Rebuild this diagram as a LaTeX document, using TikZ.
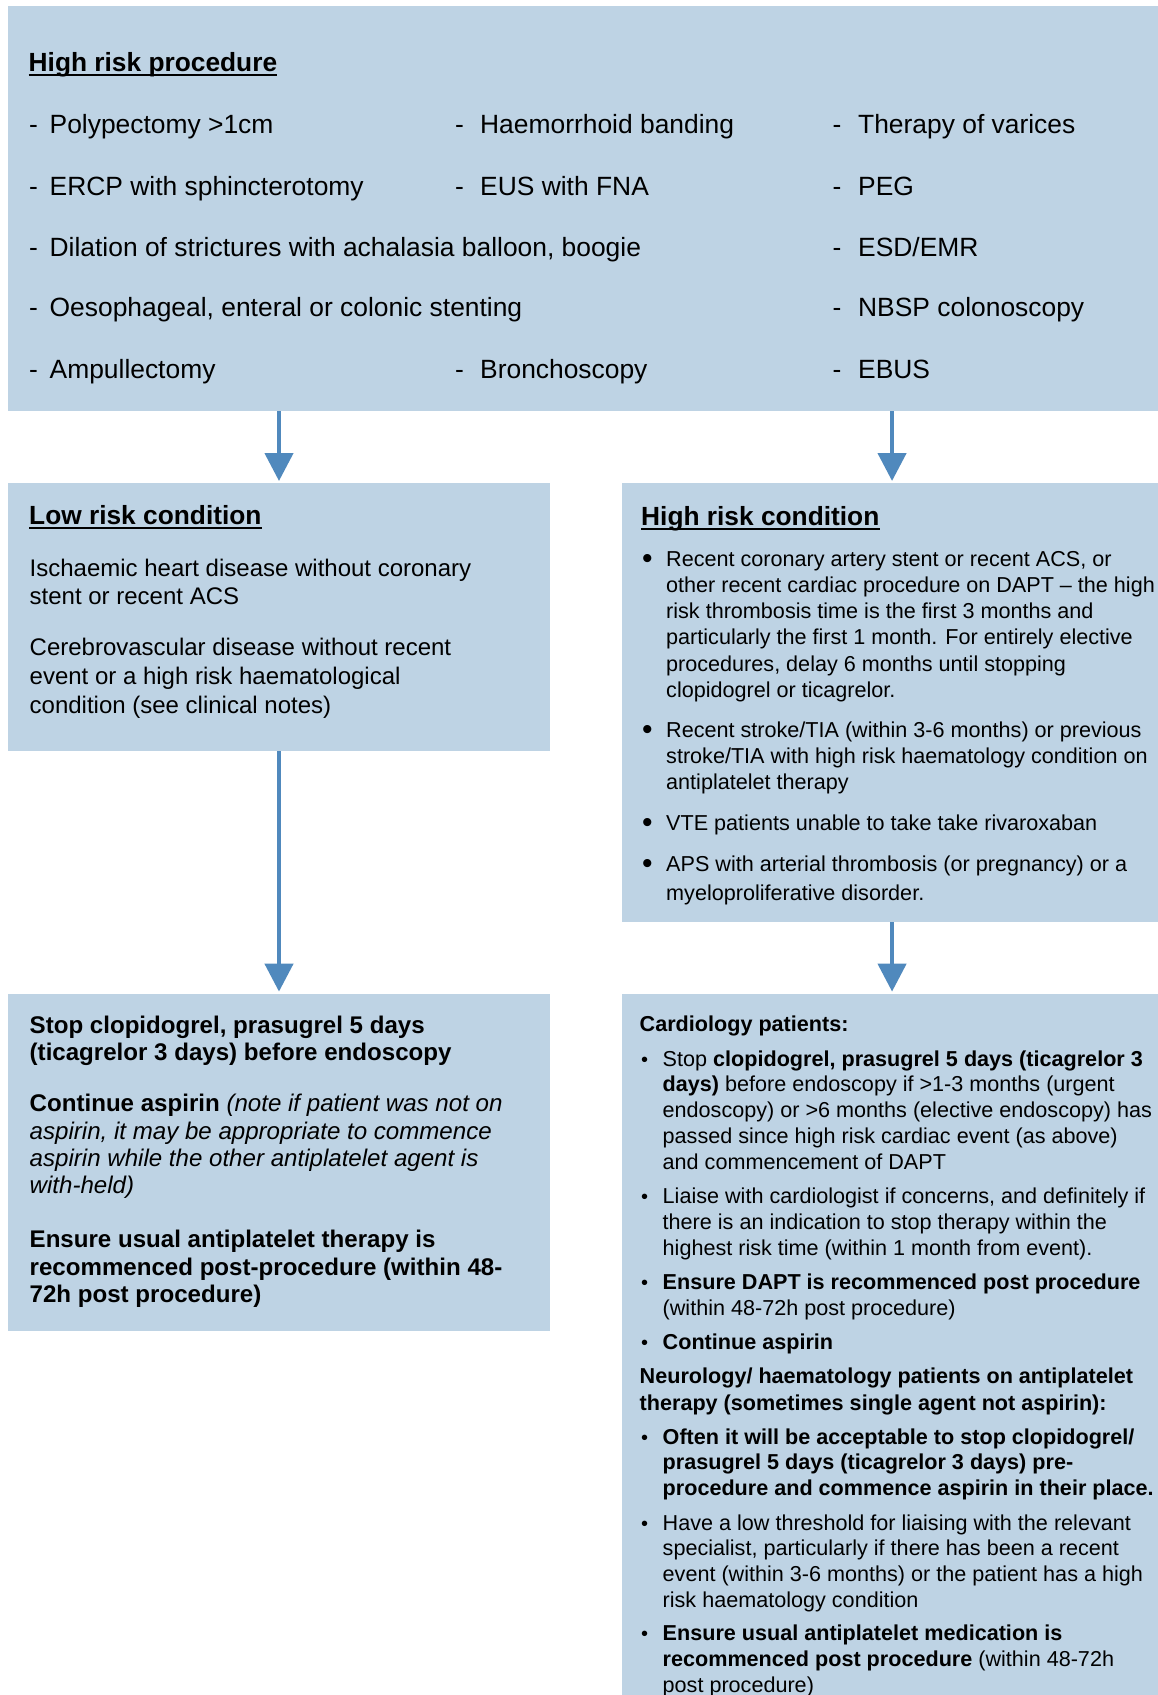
\documentclass[tikz,border=0pt]{standalone}
\usepackage{fontspec}
\setmainfont{Liberation Sans}
\usetikzlibrary{arrows.meta}
\definecolor{boxfill}{RGB}{190,211,228}
\definecolor{flowblue}{RGB}{80,137,189}
\newcommand\fsz[2]{\fontsize{#1}{#2}\selectfont}
% left-aligned lines whose baseline is the first line's baseline
\newcommand\stack[1]{\vtop{\let\\\cr\halign{##\hfil\cr#1\crcr}}}
\newcommand\gap[1]{\noalign{\vskip#1}}
\begin{document}
\begin{tikzpicture}[x=1pt,y=-1pt,
  panel/.style={fill=boxfill,draw=none,inner sep=0pt,anchor=north west},
  txt/.style={anchor=base west,inner sep=0pt},
  item/.style={txt,font=\fsz{26.4}{30}},
  head/.style={txt,font=\bfseries\fsz{26.3}{30}},
  body/.style={txt,font=\fsz{24}{28.7}},
  note/.style={txt,font=\fsz{21.6}{26.3}},
  act/.style={txt,font=\bfseries\fsz{24.1}{27.4}},
  fine/.style={txt,font=\fsz{21.6}{25.9}},
  bigdot/.style={anchor=base,inner sep=0pt,font=\fsz{30}{30}},
  smalldot/.style={anchor=base,inner sep=0pt,font=\fsz{20}{20}},
  flow/.style={draw=flowblue,line width=4.5pt,-{Triangle[width=28pt,length=28pt]},shorten >=2pt},
  rule/.style={line width=1.9pt}
]
\useasboundingbox (0,0) rectangle (1158,1695);
\fill[white] (0,0) rectangle (1158,1695);

% panels
\node[panel,minimum width=1150.4pt,minimum height=405.6pt] (proc) at (7.6,5.4) {};
\node[panel,minimum width=542.4pt,minimum height=268pt] (low) at (7.6,483) {};
\node[panel,minimum width=536.3pt,minimum height=439pt] (high) at (621.7,483) {};
\node[panel,minimum width=542.4pt,minimum height=337.4pt] (lowact) at (7.6,993.6) {};
\node[panel,minimum width=536.3pt,minimum height=701.4pt] (highact) at (621.7,993.6) {};

% connectors
\coordinate (highin) at ([xshift=2pt]high.north);
\coordinate (highout) at ([xshift=2pt]high.south);
\coordinate (highactin) at ([xshift=2pt]highact.north);
\draw[flow] (proc.south -| low.north) -- (low.north);
\draw[flow] (proc.south -| highin) -- (highin);
\draw[flow] (low.south) -- (lowact.north);
\draw[flow] (highout) -- (highactin);

% high risk procedures
\node[head] (proctitle) at (28.5,71.7) {High risk procedure};
\draw[rule] ([yshift=-3.6pt]proctitle.base west) -- ([yshift=-3.6pt]proctitle.base east);

\node[item] (pa1) at (29,133.3) {\makebox[20.5pt][l]{-}Polypectomy >1cm};
\node[item] (pb1) at (455,133.3) {\makebox[25pt][l]{-}Haemorrhoid banding};
\node[item] (pc1) at (832.5,133.3) {\makebox[25.5pt][l]{-}Therapy of varices};
\node[item] (pa2) at (29,195) {\makebox[20.5pt][l]{-}ERCP with sphincterotomy};
\node[item] (pb2) at (455,195) {\makebox[25pt][l]{-}EUS with FNA};
\node[item] (pc2) at (832.5,195) {\makebox[25.5pt][l]{-}PEG};
\node[item] (pa3) at (29,256.7) {\makebox[20.5pt][l]{-}Dilation of strictures with achalasia balloon, boogie};
\node[item] (pc3) at (832.5,256.7) {\makebox[25.5pt][l]{-}ESD/EMR};
\node[item] (pa4) at (29,316.9) {\makebox[20.5pt][l]{-}Oesophageal, enteral or colonic stenting};
\node[item] (pc4) at (832.5,316.9) {\makebox[25.5pt][l]{-}NBSP colonoscopy};
\node[item] (pa5) at (29,378) {\makebox[20.5pt][l]{-}Ampullectomy};
\node[item] (pb5) at (455,378) {\makebox[25pt][l]{-}Bronchoscopy};
\node[item] (pc5) at (832.5,378) {\makebox[25.5pt][l]{-}EBUS};

% low risk condition
\node[head] (lowtitle) at (29,524.4) {Low risk condition};
\draw[rule] ([yshift=-3.6pt]lowtitle.base west) -- ([yshift=-3.6pt]lowtitle.base east);
\node[body] (low1) at (29.5,576) {\stack{Ischaemic heart disease without coronary\\stent or recent ACS}};
\node[body] (low2) at (29.5,655.6) {\stack{Cerebrovascular disease without recent\\event or a high risk haematological\\condition (see clinical notes)}};

% high risk condition
\node[head] (hightitle) at (641,525) {High risk condition};
\draw[rule] ([yshift=-3.6pt]hightitle.base west) -- ([yshift=-3.6pt]hightitle.base east);
\node[bigdot] (hd1) at (647.3,568) {•};
\node[note] (h1) at (666,566) {\stack{Recent coronary artery stent or recent ACS, or\\other recent cardiac procedure on DAPT – the high\\risk thrombosis time is the first 3 months and\\particularly the first 1 month. For entirely elective\\procedures, delay 6 months until stopping\\clopidogrel or ticagrelor.}};
\node[bigdot] (hd2) at (647.3,739.3) {•};
\node[note] (h2) at (666,737.3) {\stack{Recent stroke/TIA (within 3-6 months) or previous\\stroke/TIA with high risk haematology condition on\\antiplatelet therapy}};
\node[bigdot] (hd3) at (647.3,832) {•};
\node[note] (h3) at (666,830) {VTE patients unable to take take rivaroxaban};
\node[bigdot] (hd4) at (647.3,873.7) {•};
\node[note] (h4) at (666,871.7) {\stack{APS with arterial thrombosis (or pregnancy) or a\\\gap{2.7pt}myeloproliferative disorder.}};

% low risk management
\node[act] (la1) at (29.5,1033.3) {\stack{Stop clopidogrel, prasugrel 5 days\\(ticagrelor 3 days) before endoscopy}};
\node[act] (la2) at (29.5,1111.7) {\stack{Continue aspirin \mdseries\itshape(note if patient was not on\\\mdseries\itshape aspirin, it may be appropriate to commence\\\mdseries\itshape aspirin while the other antiplatelet agent is\\\mdseries\itshape with-held)}};
\node[act] (la3) at (29.5,1247.7) {\stack{Ensure usual antiplatelet therapy is\\recommenced post-procedure (within 48-\\72h post procedure)}};

% high risk management
\node[fine,font=\bfseries\fsz{21.6}{25.9}] (card) at (639.5,1031.7) {Cardiology patients:};
\node[smalldot] (cd1) at (644.5,1066) {•};
\node[fine] (c1) at (662.5,1066) {\stack{Stop \textbf{clopidogrel, prasugrel 5 days (ticagrelor 3}\\\textbf{days)} before endoscopy if >1-3 months (urgent\\endoscopy) or >6 months (elective endoscopy) has\\passed since high risk cardiac event (as above)\\and commencement of DAPT}};
\node[smalldot] (cd2) at (644.5,1203.3) {•};
\node[fine] (c2) at (662.5,1203.3) {\stack{Liaise with cardiologist if concerns, and definitely if\\there is an indication to stop therapy within the\\highest risk time (within 1 month from event).}};
\node[smalldot] (cd3) at (644.5,1289.3) {•};
\node[fine] (c3) at (662.5,1289.3) {\stack{\textbf{Ensure DAPT is recommenced post procedure}\\(within 48-72h post procedure)}};
\node[smalldot] (cd4) at (644.5,1349.3) {•};
\node[fine,font=\bfseries\fsz{21.6}{25.9}] (c4) at (662.5,1349.3) {Continue aspirin};

\node[fine,font=\bfseries\fsz{21.6}{27.7}] (neuro) at (639.5,1383) {\stack{Neurology/ haematology patients on antiplatelet\\therapy (sometimes single agent not aspirin):}};
\node[smalldot] (nd1) at (644.5,1444) {•};
\node[fine,font=\bfseries\fsz{21.6}{25.5}] (n1) at (662.5,1444) {\stack{Often it will be acceptable to stop clopidogrel/\\prasugrel 5 days (ticagrelor 3 days) pre-\\procedure and commence aspirin in their place.}};
\node[smalldot] (nd2) at (644.5,1530) {•};
\node[fine] (n2) at (662.5,1530) {\stack{Have a low threshold for liaising with the relevant\\specialist, particularly if there has been a recent\\event (within 3-6 months) or the patient has a high\\risk haematology condition}};
\node[smalldot] (nd3) at (644.5,1640.7) {•};
\node[fine] (n3) at (662.5,1640.7) {\stack{\textbf{Ensure usual antiplatelet medication is}\\\textbf{recommenced post procedure} (within 48-72h\\post procedure)}};
\end{tikzpicture}
\end{document}
